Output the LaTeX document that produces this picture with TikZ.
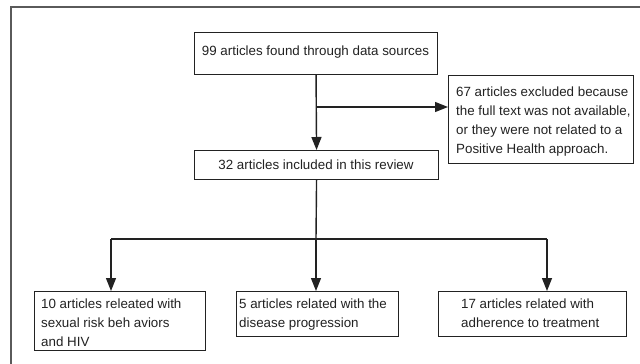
\documentclass[tikz,border=0pt]{standalone}
\usepackage{fontspec}
\setmainfont{Liberation Sans}
\usetikzlibrary{arrows.meta}
\definecolor{ink}{HTML}{222222}
\definecolor{frame}{HTML}{5A5A5A}
\begin{document}
\begin{tikzpicture}[x=1pt,y=-1pt,
  box/.style={draw=ink, line width=1.1pt, inner sep=0pt, anchor=north west},
  txt/.style={text=ink, inner sep=0pt, align=left, font=\fontsize{13.35}{19}\selectfont},
  conn/.style={draw=ink, line width=1.4pt},
  arr/.style={conn, -{Triangle[width=10pt,length=13pt]}}]
\useasboundingbox (0,0) rectangle (640,364);
\fill[white] (0,0) rectangle (640,364);
\draw[frame, line width=2pt] (11,364) -- (11,7) -- (640,7);
% boxes
\node[box, minimum width=243pt, minimum height=42pt] (top) at (194,32) {};
\node[box, minimum width=244pt, minimum height=29pt] (mid) at (194,150) {};
\node[box, minimum width=185pt, minimum height=88pt] (exc) at (448,75) {};
\node[box, minimum width=171pt, minimum height=59pt] (lb) at (34,291) {};
\node[box, minimum width=162pt, minimum height=45pt] (cb) at (236,291) {};
\node[box, minimum width=188pt, minimum height=45pt] (rb) at (438,291) {};
% texts (base anchor = baseline of the last line)
\node[txt, anchor=base] (ttop) at (315.5,55) {99 articles found through data sources};
\node[txt, anchor=base] (tmid) at (316,169) {32 articles included in this review};
\node[txt, anchor=base west] (texc) at (456,153) {67 articles excluded because\\the full text was not available,\\or they were not related to a\\Positive Health approach.};
\node[txt, anchor=base west] (tlb) at (41,346) {10 articles releated with\\sexual risk beh aviors\\and HIV};
\node[txt, anchor=base west] (tcb) at (239,327) {5 articles related with the\\disease progression};
\node[txt, anchor=base west] (trb) at (461,327) {17 articles related with\\adherence to treatment};
% connectors
\coordinate (br) at (316,107);
\coordinate (j) at (316,239);
\coordinate (jl) at (111,239);
\coordinate (jr) at (547,239);
\draw[arr] (top.south) -- (mid.north);
\draw[arr] (br) -- (br -| exc.west);
\draw[conn] (mid.south) -- (j);
\draw[conn] (jl) -- (jr);
\draw[arr] (jl) -- (jl |- lb.north);
\draw[arr] (j) -- (j |- cb.north);
\draw[arr] (jr) -- (jr |- rb.north);
\end{tikzpicture}
\end{document}
